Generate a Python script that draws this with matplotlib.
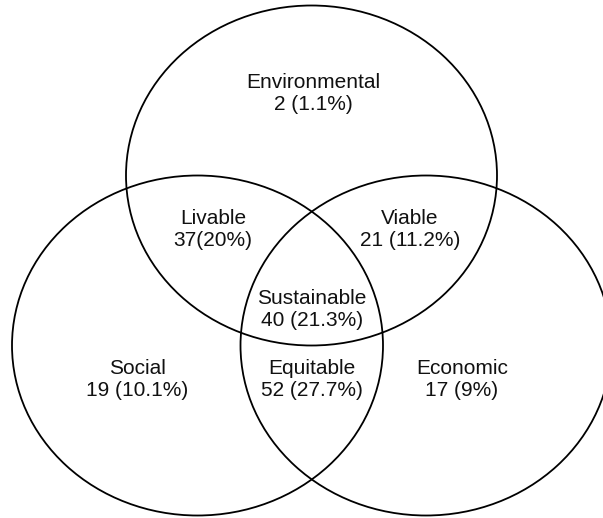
import matplotlib.pyplot as plt
from matplotlib.patches import Ellipse

# region labels, counts and shares
labels = ['Environmental', 'Livable', 'Viable', 'Sustainable', 'Social', 'Equitable', 'Economic']
counts = [2, 37, 21, 40, 19, 52, 17]
shares = ['1.1%', '20%', '11.2%', '21.3%', '10.1%', '27.7%', '9%']

W, H = 603, 518
fig = plt.figure(figsize=(W / 100, H / 100), dpi=100)
ax = fig.add_axes([0, 0, 1, 1])
ax.set_xlim(0, W)
ax.set_ylim(H, 0)
ax.axis('off')

# ellipses: top (environmental), left (social), right (economic)
centers = [(311.5, 175.5), (197.5, 345.5), (426, 345.5)]
for cx, cy in centers:
    ax.add_patch(Ellipse((cx, cy), 371, 340, fill=False, edgecolor='black', linewidth=1.3))

pos = [(313, 94), (213, 229), (410, 229), (312, 309), (137, 379), (312, 379), (462, 379)]
for (x, y), lab, c, s in zip(pos, labels, counts, shares):
    if lab == 'Livable':
        txt = f'{lab}\n{c}({s})'
    else:
        txt = f'{lab}\n{c} ({s})'
    ax.text(x, y, txt, ha='center', va='center', fontsize=15, family='Liberation Sans',
            linespacing=1.2, color='#111111')

plt.savefig('out.png', dpi=100)
